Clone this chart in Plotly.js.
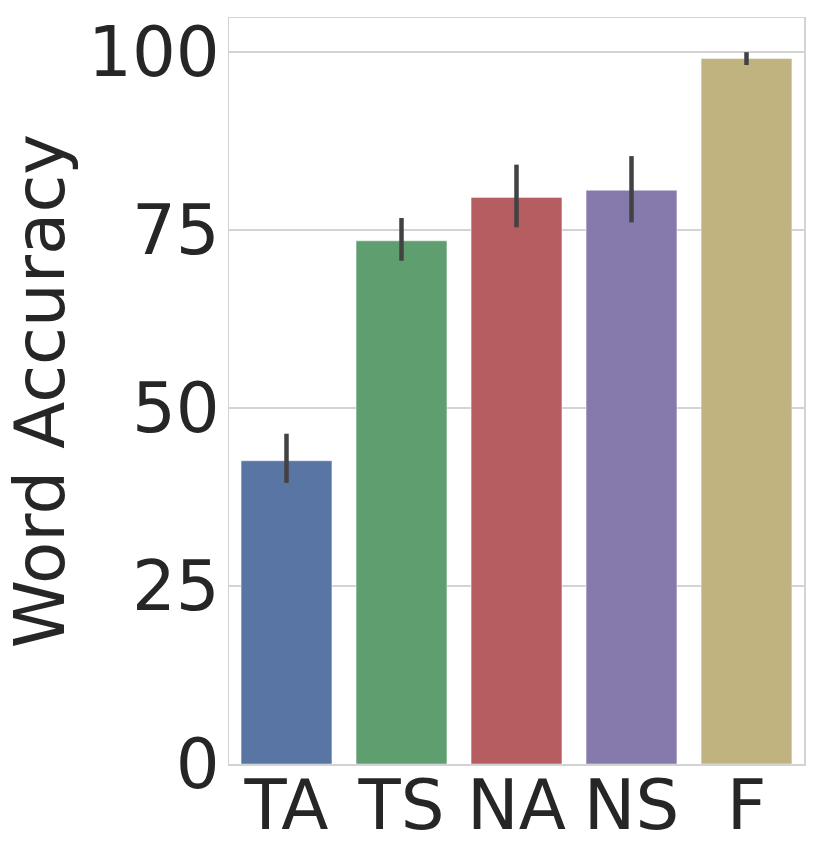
<!DOCTYPE html>
<html>
<head>
<meta charset="utf-8">
<script src="https://cdn.plot.ly/plotly-3.0.1.min.js"></script>
<style>html,body{margin:0;padding:0;background:#fff;}#chart{width:822px;height:856px;}</style>
</head>
<body>
<div id="chart"></div>
<script>
var categories = ["TA", "TS", "NA", "NS", "F"];
var meanAccuracy = [42.6, 73.5, 79.6, 80.6, 99.1];
var ciLow = [39.5, 70.7, 75.4, 76.1, 98.2];
var ciHigh = [46.4, 76.7, 84.2, 85.4, 100.0];
var barColors = ["#5975a4", "#5f9e6e", "#b55d60", "#857aab", "#c1b37f"];
var yTicks = [0, 25, 50, 75, 100];

var errPlus = meanAccuracy.map(function (m, i) { return ciHigh[i] - m; });
var errMinus = meanAccuracy.map(function (m, i) { return m - ciLow[i]; });

var trace = {
  type: "bar",
  x: categories,
  y: meanAccuracy,
  marker: { color: barColors, line: { color: "rgba(255,255,255,0.45)", width: 1 } },
  error_y: {
    type: "data",
    symmetric: false,
    array: errPlus,
    arrayminus: errMinus,
    color: "#424242",
    thickness: 4.5,
    width: 0
  },
  hoverinfo: "x+y"
};

var font = { family: "DejaVu Sans, sans-serif", size: 69, color: "#262626" };

var layout = {
  width: 822,
  height: 856,
  margin: { l: 229, r: 18, t: 18, b: 92 },
  paper_bgcolor: "#ffffff",
  plot_bgcolor: "#ffffff",
  showlegend: false,
  bargap: 0.21,
  font: font,
  xaxis: {
    type: "category",
    showgrid: false,
    showline: true,
    mirror: true,
    linecolor: "#d3d3d3",
    linewidth: 1.5,
    ticks: "",
    ticklabelstandoff: -19,
    tickfont: font,
    zeroline: false
  },
  yaxis: {
    range: [0, 104.8],
    tickvals: yTicks,
    ticktext: yTicks.map(String),
    showgrid: true,
    gridcolor: "#d3d3d3",
    gridwidth: 1.5,
    showline: true,
    mirror: true,
    linecolor: "#d3d3d3",
    linewidth: 1.5,
    zeroline: false,
    ticks: "",
    ticklabelstandoff: -6,
    tickfont: font,
    title: { text: "Word Accuracy", font: font, standoff: 36 }
  }
};

Plotly.newPlot("chart", [trace], layout, { displayModeBar: false, staticPlot: true });
</script>
</body>
</html>
